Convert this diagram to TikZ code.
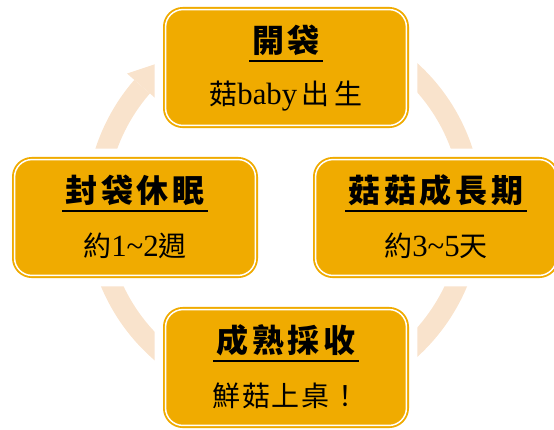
\documentclass[tikz,border=0pt]{standalone}
\usepackage{fontspec}
\setmainfont{Noto Sans CJK TC}
\newfontfamily\lat[Scale=1.1]{Liberation Serif}
\newfontfamily\ttlfont[LetterSpace=12]{Noto Sans CJK TC}
\newfontfamily\subfont[LetterSpace=7]{Noto Sans CJK TC}
\usetikzlibrary{backgrounds}

\definecolor{stagegold}{HTML}{F0AB00}
\definecolor{ringpeach}{HTML}{F9E3CC}

\tikzset{
	stage/.style={draw=stagegold, double=white, line width=1.4pt, double distance=1.1pt,
		fill=stagegold, rounded corners=13pt, minimum width=180.6pt, minimum height=86.9pt, inner sep=0pt},
	ttl/.style={font=\ttlfont\bfseries\fontsize{24pt}{28pt}\selectfont, inner sep=2pt},
	sub/.style={font=\subfont\fontsize{21pt}{25pt}\selectfont, inner sep=0pt},
	uline/.style={line width=1.5pt, black},
	halo/.style={fill=white, rounded corners=18pt},
	ring/.style={draw=ringpeach, line width=15.5pt}
}

\begin{document}
\begin{tikzpicture}[x=0.75pt, y=0.75pt]
	\useasboundingbox (0,0) rectangle (554,-429);
	\coordinate (hub) at (284,-210);

	% the four stages
	\node[stage] (open) at (286,-67.5) {};
	\node[stage] (grow) at (436,-217.5) {};
	\node[stage] (harvest) at (286,-367.5) {};
	\node[stage] (sleep) at (135,-217.5) {};

	\node[ttl] (open-t) at ([yshift=-23.5pt]open.north) {開袋};
	\node[sub] (open-s) at ([yshift=-65.5pt]open.north) {菇{\lat baby}\,出\,生};
	\node[ttl] (grow-t) at ([yshift=-23.5pt]grow.north) {菇菇成長期};
	\node[sub] (grow-s) at ([yshift=-65.5pt]grow.north) {約{\lat 3\textasciitilde5}天};
	\node[ttl] (harvest-t) at ([yshift=-23.5pt]harvest.north) {成熟採收};
	\node[sub] (harvest-s) at ([yshift=-65.5pt]harvest.north) {鮮菇上桌！};
	\node[ttl] (sleep-t) at ([yshift=-23.5pt]sleep.north) {封袋休眠};
	\node[sub] (sleep-s) at ([yshift=-65.5pt]sleep.north) {約{\lat 1\textasciitilde2}週};

	\foreach \n in {open,grow,harvest,sleep}
		\draw[uline] ([yshift=-15.75pt]\n-t.west) -- ([yshift=-15.75pt]\n-t.east);

	% cycle ring behind the boxes
	\begin{scope}[on background layer]
		\draw[ring] ([shift={(55:188)}]hub) arc[start angle=55, end angle=-221, radius=188];
		\fill[ringpeach] ([shift={(139:170)}]hub) -- ([shift={(139:208)}]hub) -- ([shift={(127:189)}]hub) -- cycle;
		\foreach \n in {open,grow,harvest,sleep}
			\fill[halo] ([shift={(-10,10)}]\n.north west) rectangle ([shift={(10,-10)}]\n.south east);
	\end{scope}
\end{tikzpicture}
\end{document}
